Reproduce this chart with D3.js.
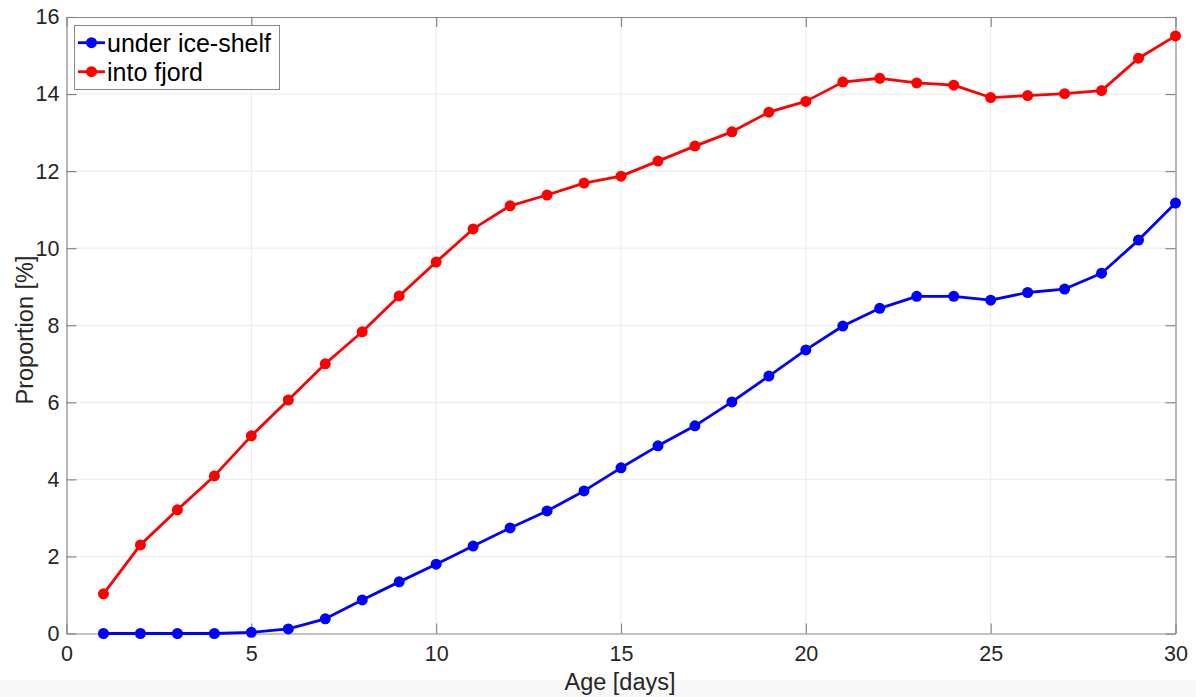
<!DOCTYPE html>
<html>
<head>
<meta charset="utf-8">
<script src="https://cdn.jsdelivr.net/npm/d3@7"></script>
<style>
  html, body { margin: 0; padding: 0; background: #ffffff; }
  svg { display: block; font-family: "Liberation Sans", Arial, Helvetica, sans-serif; }
</style>
</head>
<body>
<svg id="chart" width="1196" height="697"></svg>
<script>
// Age in days
const days = d3.range(1, 31);

// Proportion of particles [%]
const underIceShelf = [0.00, 0.00, 0.00, 0.00, 0.03, 0.12, 0.38, 0.87, 1.34, 1.80,
                       2.27, 2.74, 3.18, 3.70, 4.30, 4.87, 5.39, 6.01, 6.68, 7.36,
                       7.98, 8.44, 8.75, 8.75, 8.65, 8.85, 8.94, 9.35, 10.21, 11.17];
const intoFjord = [1.03, 2.30, 3.21, 4.09, 5.13, 6.06, 7.00, 7.83, 8.76, 9.64,
                   10.50, 11.10, 11.38, 11.69, 11.87, 12.26, 12.65, 13.02, 13.53, 13.81,
                   14.31, 14.41, 14.29, 14.23, 13.91, 13.96, 14.01, 14.09, 14.93, 15.51];

const xTicks = [0, 5, 10, 15, 20, 25, 30];
const yTicks = [0, 2, 4, 6, 8, 10, 12, 14, 16];

const seriesNames = ["under ice-shelf", "into fjord"];
const seriesColors = ["#0000ff", "#ff0000"];

const svg = d3.select("#chart");
const W = 1196, H = 697;
const m = { left: 66.5, right: 1175.5, top: 17, bottom: 633.5 };

// light strip along the bottom of the figure
svg.append("rect").attr("x", 0).attr("y", 680).attr("width", W).attr("height", H - 680)
  .attr("fill", "#f8f8f8");

const x = d3.scaleLinear().domain([0, 30]).range([m.left, m.right]);
const y = d3.scaleLinear().domain([0, 16]).range([m.bottom, m.top]);

const axisColor = "#888888";
const textColor = "#262626";

// grid
const grid = svg.append("g");
grid.selectAll(".gx").data(xTicks.slice(1, -1)).join("line")
  .attr("x1", d => x(d)).attr("x2", d => x(d))
  .attr("y1", m.top).attr("y2", m.bottom)
  .attr("stroke", "#ebebeb").attr("stroke-width", 1);
grid.selectAll(".gy").data(yTicks.slice(1, -1)).join("line")
  .attr("x1", m.left).attr("x2", m.right)
  .attr("y1", d => y(d)).attr("y2", d => y(d))
  .attr("stroke", "#ebebeb").attr("stroke-width", 1);

// axes with inward ticks on all sides
const tickLen = 10;
const fmt = d3.format("d");
const axB = svg.append("g").attr("transform", `translate(0,${m.bottom})`)
  .call(d3.axisBottom(x).tickValues(xTicks).tickFormat(fmt).tickSizeInner(-tickLen).tickSizeOuter(0).tickPadding(12));
const axT = svg.append("g").attr("transform", `translate(0,${m.top})`)
  .call(d3.axisTop(x).tickValues(xTicks).tickFormat("").tickSizeInner(-tickLen).tickSizeOuter(0));
const axL = svg.append("g").attr("transform", `translate(${m.left},0)`)
  .call(d3.axisLeft(y).tickValues(yTicks).tickFormat(fmt).tickSizeInner(-tickLen).tickSizeOuter(0).tickPadding(7));
const axR = svg.append("g").attr("transform", `translate(${m.right},0)`)
  .call(d3.axisRight(y).tickValues(yTicks).tickFormat("").tickSizeInner(-tickLen).tickSizeOuter(0));

[axB, axT, axL, axR].forEach(a => {
  a.select(".domain").attr("stroke", axisColor).attr("stroke-width", 1.2);
  a.selectAll(".tick line").attr("stroke", axisColor).attr("stroke-width", 1.2);
  a.selectAll(".tick text").attr("fill", textColor).attr("font-size", 21.5)
    .attr("font-family", "'Liberation Sans', Arial, Helvetica, sans-serif");
});

// axis titles
svg.append("text").attr("x", (m.left + m.right) / 2 - 1).attr("y", 690)
  .attr("text-anchor", "middle").attr("font-size", 23.5).attr("fill", textColor)
  .text("Age [days]");
svg.append("text").attr("transform", `translate(33,330) rotate(-90)`)
  .attr("text-anchor", "middle").attr("font-size", 23.5).attr("fill", textColor)
  .text("Proportion [%]");

// series
const series = [underIceShelf, intoFjord];
const line = d3.line().x((d, i) => x(days[i])).y(d => y(d));
series.forEach((vals, k) => {
  const g = svg.append("g");
  g.append("path").datum(vals).attr("d", line)
    .attr("fill", "none").attr("stroke", seriesColors[k]).attr("stroke-width", 2.8)
    .attr("stroke-linejoin", "round");
  g.selectAll("circle").data(vals).join("circle")
    .attr("cx", (d, i) => x(days[i])).attr("cy", d => y(d)).attr("r", 5.5)
    .attr("fill", seriesColors[k]);
});

// legend
const lg = svg.append("g");
lg.append("rect").attr("x", 74.5).attr("y", 25.5).attr("width", 205).attr("height", 64)
  .attr("fill", "#ffffff").attr("stroke", axisColor).attr("stroke-width", 1);
seriesNames.forEach((name, k) => {
  const cy = 42.7 + k * 29;
  lg.append("line").attr("x1", 78).attr("x2", 105).attr("y1", cy).attr("y2", cy)
    .attr("stroke", seriesColors[k]).attr("stroke-width", 2.8);
  lg.append("circle").attr("cx", 91.5).attr("cy", cy).attr("r", 5.5).attr("fill", seriesColors[k]);
  lg.append("text").attr("x", 107).attr("y", cy + 9).attr("font-size", 25)
    .attr("fill", "#000000").text(name);
});
</script>
</body>
</html>
